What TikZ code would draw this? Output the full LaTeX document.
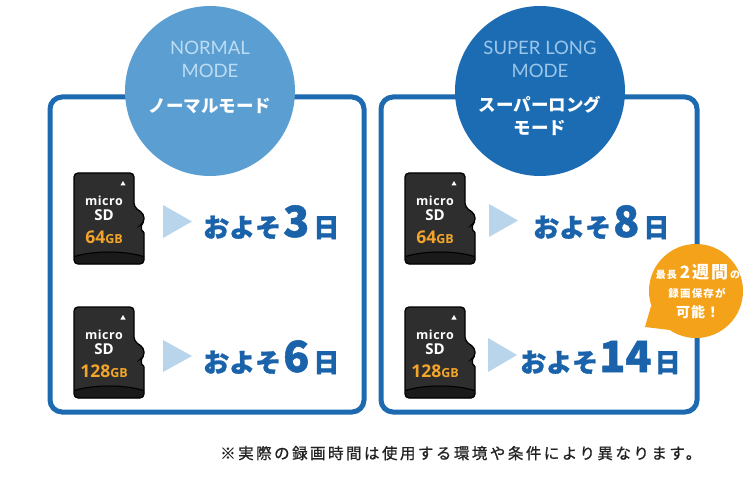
\documentclass[tikz,border=0pt]{standalone}
\usepackage{fontspec}
\setmainfont{Open Sans}
\newfontfamily\jp{Noto Sans CJK JP}
\newfontfamily\jpheavy{Noto Sans CJK JP}[BoldFeatures={FakeBold=1.2}]
\newfontfamily\jpfoot{Noto Sans CJK JP}[LetterSpace=16, FakeBold=0.8]
\newfontfamily\cardsans{Open Sans}[LetterSpace=4]
\newfontfamily\lat{Lato}
\definecolor{boxblue}{HTML}{1E6AB0}
\definecolor{lightcirc}{HTML}{5B9FD2}
\definecolor{darkcirc}{HTML}{1B6CB3}
\definecolor{lighttxt}{HTML}{BDDCF3}
\definecolor{lighttxtb}{HTML}{9CC6EA}
\definecolor{arrowblue}{HTML}{B9D5EC}
\definecolor{dayblue}{HTML}{1A63AA}
\definecolor{bubble}{HTML}{F5A21B}
\definecolor{cardorange}{HTML}{F2A52A}
\definecolor{cardbody}{HTML}{2E2E2E}
\definecolor{cardlip}{HTML}{1A1A1A}
\definecolor{foot}{HTML}{222222}
\tikzset{
  modebox/.style={draw=boxblue, line width=5pt, rounded corners=12pt},
  arrowtri/.style={fill=arrowblue},
  entxt/.style={inner sep=0pt, anchor=base, font=\lat\fontsize{18.5}{18.5}\selectfont},
  jptxt/.style={inner sep=0pt, anchor=base, text=white, font=\jp\bfseries\fontsize{17.5}{17.5}\selectfont},
  days/.style={inner sep=0pt, anchor=base west, text=dayblue, font=\jpheavy\bfseries},
  cardtxt/.style={inner sep=0pt, anchor=base, text=white},
  bubtxt/.style={inner sep=0pt, anchor=base, text=white, font=\jp\bfseries},
}
\def\cardpath{[rounded corners=4pt] (0,0) -- (60,0) -- (60,34) -- (70,41) -- (70,50) [rounded corners=1pt] -- (67.5,51.5) -- (67.5,57.5) -- (70,59) [rounded corners=4pt] -- (70,91) -- (0,91) -- cycle}
\newcommand\sdcard[4]{%
\begin{scope}[shift={(#2,#3)}]
  \fill[cardbody] \cardpath;
  \begin{scope}
    \clip \cardpath;
    \fill[cardlip] (-1,83) .. controls (20,77) and (50,77) .. (71,83) -- (71,95) -- (-1,95) -- cycle;
  \end{scope}
  \draw[black, line width=1pt] (1,83.5) .. controls (20,77.5) and (50,77.5) .. (69,83.5);
  \draw[black, line width=1.3pt] \cardpath;
  \fill[white] (49,8) -- (51.6,12.5) -- (46.4,12.5) -- cycle;
  \node[cardtxt, font=\cardsans\bfseries\fontsize{12.5}{12.5}\selectfont] (#1-micro) at (30,32) {micro};
  \node[cardtxt, font=\bfseries\fontsize{15}{15}\selectfont] (#1-sd) at (30,47) {SD};
  \node[cardtxt, text=cardorange, font=\bfseries] (#1-cap) at (30,70) {\fontsize{17.5}{17.5}\selectfont #4\fontsize{12.5}{12.5}\selectfont GB};
\end{scope}}
\begin{document}
\begin{tikzpicture}[x=1pt,y=-1pt]
\useasboundingbox (0,0) rectangle (750,484);
\fill[white] (0,0) rectangle (750,484);
% boxes
\draw[modebox] (50,97) rectangle (364,412);
\draw[modebox] (381,97) rectangle (697,412);
% circles
\fill[lightcirc] (210,91) circle (85);
\fill[darkcirc] (540,91) circle (85);
\node[entxt, text=lighttxt] (n1) at (210,55) {NORMAL};
\node[entxt, text=lighttxt] (n2) at (210,78) {MODE};
\node[jptxt] (n3) at (210,113) {ノーマルモード};
\node[entxt, text=lighttxtb] (s1) at (540,55) {SUPER LONG};
\node[entxt, text=lighttxtb] (s2) at (540,78) {MODE};
\node[jptxt] (s3) at (540,112) {スーパーロング};
\node[jptxt] (s4) at (540,135) {モード};
% cards
\sdcard{c1}{74}{173}{64}
\sdcard{c2}{74}{307}{128}
\sdcard{c3}{405}{173}{64}
\sdcard{c4}{405}{307}{128}
% arrows
\fill[arrowtri] (163,205) -- (192,221.5) -- (163,238) -- cycle;
\fill[arrowtri] (163,340) -- (192,356) -- (163,372) -- cycle;
\fill[arrowtri] (489,204) -- (518,220.5) -- (489,237) -- cycle;
\fill[arrowtri] (488,338) -- (517,355) -- (488,372) -- cycle;
% day texts
\node[days] (d1) at (203,237) {\fontsize{26}{26}\selectfont およそ\kern2pt\fontsize{43}{43}\selectfont 3\kern4pt\fontsize{26}{26}\selectfont 日};
\node[days] (d2) at (203,372) {\fontsize{26}{26}\selectfont およそ\kern2pt\fontsize{43}{43}\selectfont 6\kern4pt\fontsize{26}{26}\selectfont 日};
\node[days] (d3) at (533,237) {\fontsize{26}{26}\selectfont およそ\kern2pt\fontsize{43}{43}\selectfont 8\kern4pt\fontsize{26}{26}\selectfont 日};
\node[days] (d4) at (520,372) {\fontsize{26}{26}\selectfont およそ\kern1pt\fontsize{43}{43}\selectfont 14\kern3pt\fontsize{26}{26}\selectfont 日};
% bubble
\fill[bubble] (696,291) circle (47);
\fill[bubble] (651,306) -- (645,327) -- (670,330) -- cycle;
\node[bubtxt] (b1) at (698,278) {\fontsize{10}{10}\selectfont 最\kern1pt 長\kern3pt\fontsize{17}{17}\selectfont 2\kern2pt 週\kern2pt 間\kern2pt\fontsize{10}{10}\selectfont の};
\node[bubtxt] (b2) at (697,297) {\fontsize{10.5}{10.5}\selectfont 録\kern1.2pt 画\kern1.2pt 保\kern1.2pt 存\kern1.2pt が};
\node[bubtxt] (b3) at (698,317) {\fontsize{14}{14}\selectfont 可\kern1pt 能\kern1pt ！};
% footnote
\node[inner sep=0pt, anchor=base west, text=foot, font=\jpfoot\fontsize{15.5}{15.5}\selectfont] (foot) at (220,459) {※実際の録画時間は使用する環境や条件により異なります。};
\end{tikzpicture}
\end{document}
